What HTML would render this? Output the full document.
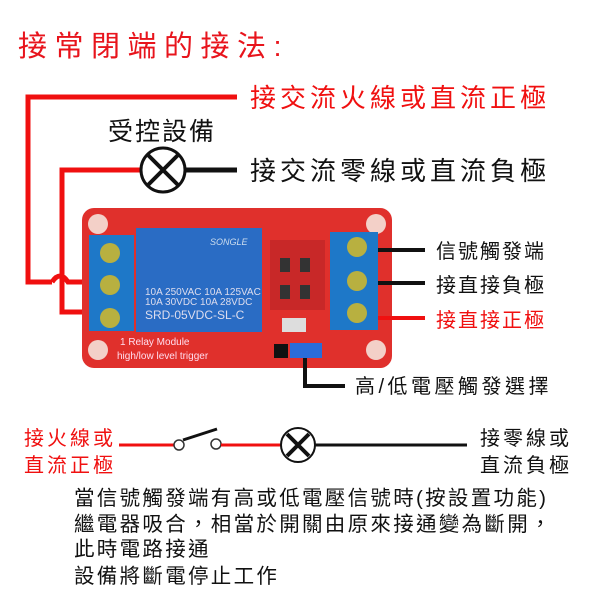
<!DOCTYPE html>
<html><head><meta charset="utf-8"><style>
body{margin:0;width:600px;height:600px;background:#fff;overflow:hidden}
svg text{font-family:"Liberation Sans","Noto Sans CJK TC",sans-serif}
</style></head><body>
<svg width="600" height="600" viewBox="0 0 600 600" xmlns="http://www.w3.org/2000/svg">
<text x="18" y="56" font-size="29" fill="#e8141c" letter-spacing="7.5">接常閉端的接法:</text>
<polyline points="237,97 28,97 28,282 52,282" fill="none" stroke="#f01010" stroke-width="5"/>
<path d="M52,282 q8,-12 16,0 L84,282" fill="none" stroke="#f01010" stroke-width="5"/>
<polyline points="141,170 62,170 62,312 86,312" fill="none" stroke="#f01010" stroke-width="5"/>
<text x="250" y="107" font-size="26" fill="#f01010" letter-spacing="4">接交流火線或直流正極</text>
<text x="108" y="140" font-size="25" fill="#111" letter-spacing="2">受控設備</text>
<circle cx="163" cy="170" r="22" fill="#fff" stroke="#111" stroke-width="3"/>
<path d="M148,155 L178,185 M178,155 L148,185" stroke="#111" stroke-width="4"/>
<line x1="185" y1="170" x2="237" y2="170" stroke="#111" stroke-width="5"/>
<text x="250" y="180" font-size="26" fill="#111" letter-spacing="4">接交流零線或直流負極</text>
<rect x="82" y="208" width="310" height="160" rx="12" fill="#e0302c"/>
<circle cx="98" cy="224" r="10" fill="#f3d0c8"/><circle cx="376" cy="224" r="10" fill="#f3d0c8"/>
<circle cx="98" cy="350" r="10" fill="#f3d0c8"/><circle cx="376" cy="350" r="10" fill="#f3d0c8"/>
<rect x="89" y="235" width="45" height="96" fill="#1e78c8"/>
<circle cx="110" cy="253" r="10" fill="#b8b040"/><circle cx="110" cy="285" r="10" fill="#b8b040"/><circle cx="110" cy="318" r="10" fill="#b8b040"/>
<rect x="136" y="228" width="126" height="104" fill="#2a6cc4"/>
<text x="210" y="245" font-size="9" fill="#cde" font-style="italic">SONGLE</text>
<text x="145" y="295" font-size="10" fill="#dde">10A 250VAC  10A 125VAC</text>
<text x="145" y="305" font-size="10" fill="#dde">10A  30VDC  10A  28VDC</text>
<text x="145" y="319" font-size="12" fill="#dde">SRD-05VDC-SL-C</text>
<rect x="330" y="232" width="48" height="98" fill="#1e78c8"/>
<circle cx="357" cy="247" r="10" fill="#b8b040"/><circle cx="357" cy="281" r="10" fill="#b8b040"/><circle cx="357" cy="313" r="10" fill="#b8b040"/>
<rect x="270" y="240" width="55" height="70" fill="#c82828"/>
<rect x="280" y="258" width="10" height="14" fill="#333"/><rect x="300" y="258" width="10" height="14" fill="#333"/>
<rect x="280" y="285" width="10" height="14" fill="#333"/><rect x="300" y="285" width="10" height="14" fill="#333"/>
<rect x="282" y="318" width="24" height="14" fill="#ddd"/>
<text x="120" y="345" font-size="10" fill="#fde" font-family="Liberation Serif">1 Relay   Module</text>
<text x="117" y="359" font-size="10" fill="#fde" font-family="Liberation Serif">high/low level trigger</text>
<rect x="274" y="344" width="14" height="14" fill="#111"/>
<rect x="290" y="343" width="32" height="15" fill="#2a6cd8"/>
<line x1="378" y1="250" x2="425" y2="250" stroke="#111" stroke-width="4"/>
<line x1="378" y1="283" x2="425" y2="283" stroke="#111" stroke-width="4"/>
<line x1="378" y1="318" x2="425" y2="318" stroke="#f01010" stroke-width="4"/>
<text x="436" y="258" font-size="20" fill="#111" letter-spacing="2">信號觸發端</text>
<text x="436" y="292" font-size="20" fill="#111" letter-spacing="2">接直接負極</text>
<text x="436" y="327" font-size="20" fill="#f01010" letter-spacing="2">接直接正極</text>
<polyline points="305,358 305,386 345,386" fill="none" stroke="#111" stroke-width="4"/>
<text x="355" y="393" font-size="20" fill="#111" letter-spacing="3.5">高/低電壓觸發選擇</text>
<text x="24" y="445" font-size="20" fill="#f01010" letter-spacing="3">接火線或</text>
<text x="24" y="472" font-size="20" fill="#f01010" letter-spacing="3">直流正極</text>
<line x1="119" y1="445" x2="175" y2="445" stroke="#f01010" stroke-width="3"/>
<circle cx="179" cy="445" r="5" fill="#fff" stroke="#333" stroke-width="1.5"/>
<path d="M183,440 L217,429" stroke="#111" stroke-width="3"/>
<circle cx="216" cy="444" r="5" fill="#fff" stroke="#333" stroke-width="1.5"/>
<line x1="221" y1="445" x2="281" y2="445" stroke="#f01010" stroke-width="3"/>
<circle cx="298" cy="445" r="17" fill="#fff" stroke="#111" stroke-width="2"/>
<path d="M287,434 L309,456 M309,434 L287,456" stroke="#111" stroke-width="4"/>
<line x1="315" y1="445" x2="467" y2="445" stroke="#111" stroke-width="3"/>
<text x="480" y="445" font-size="20" fill="#111" letter-spacing="3">接零線或</text>
<text x="480" y="472" font-size="20" fill="#111" letter-spacing="3">直流負極</text>
<g font-size="20.5" fill="#111" letter-spacing="2.3">
<text x="74" y="505">當信號觸發端有高或低電壓信號時(按設置功能)</text>
<text x="74" y="531">繼電器吸合，相當於開關由原來接通變為斷開，</text>
<text x="74" y="556">此時電路接通</text>
<text x="74" y="583">設備將斷電停止工作</text>
</g>
</svg>
</body></html>
